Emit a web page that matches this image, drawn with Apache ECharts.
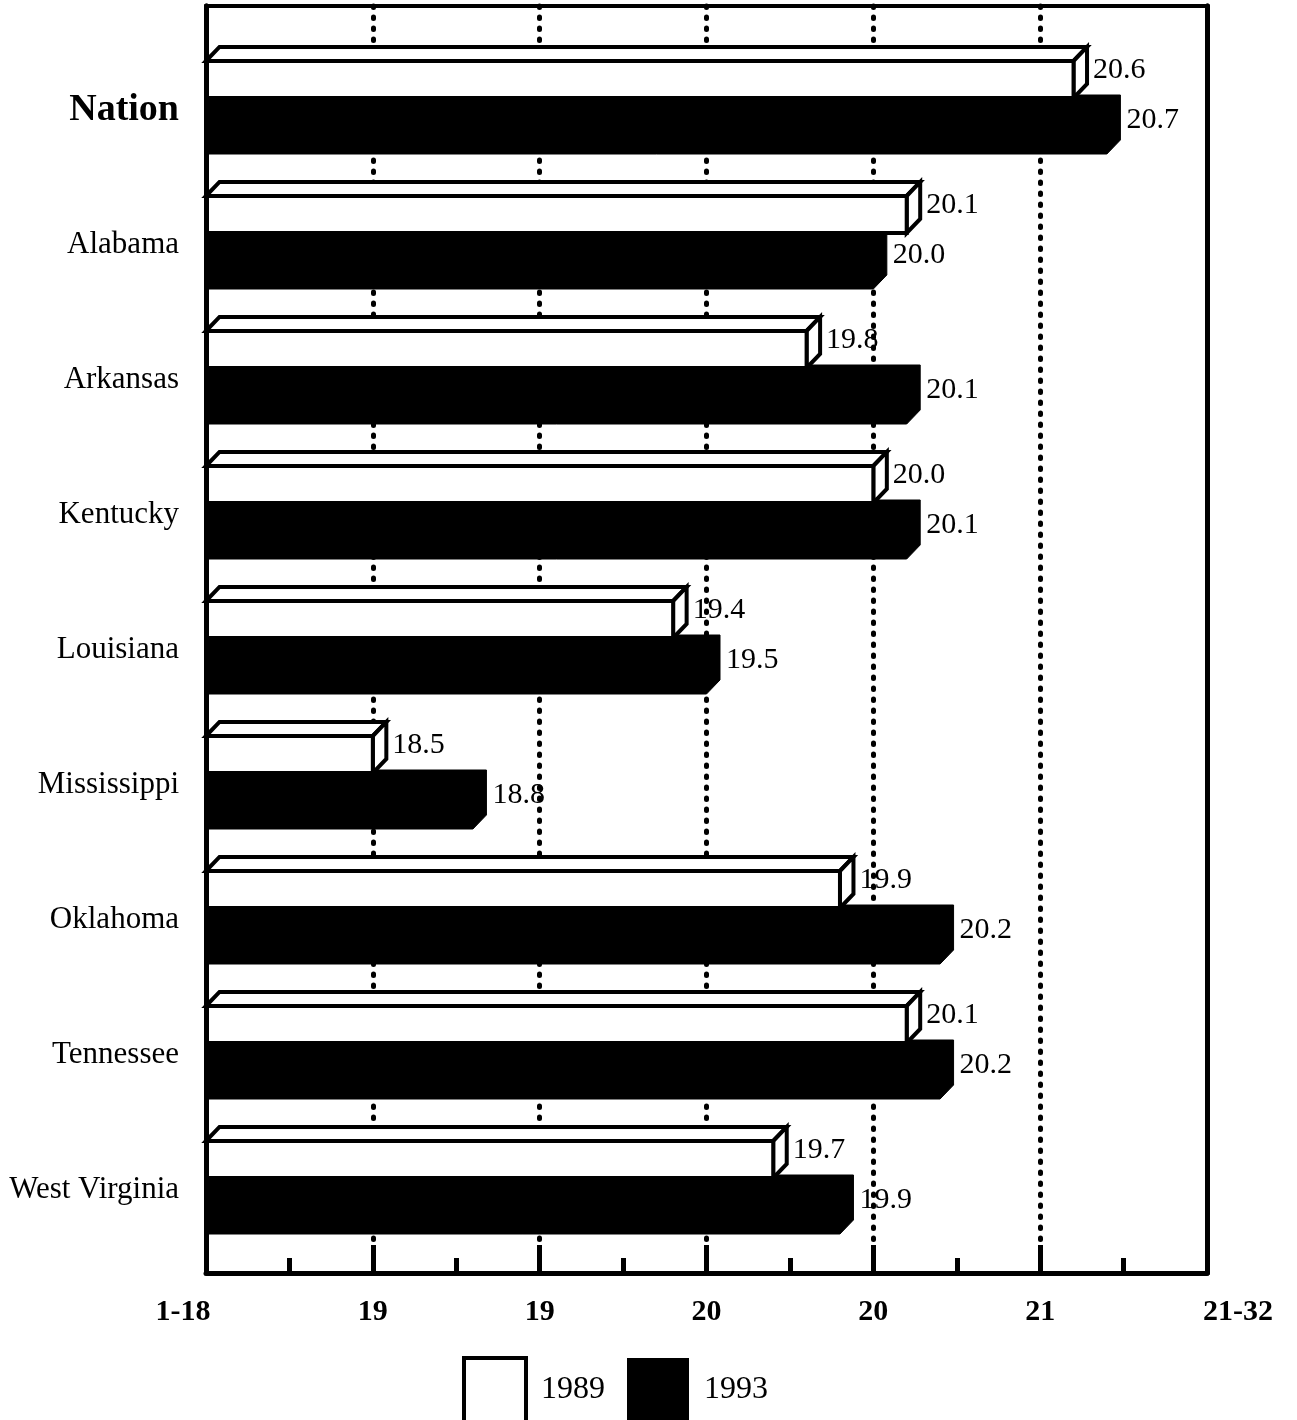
<!DOCTYPE html>
<html>
<head>
<meta charset="utf-8">
<script src="https://cdn.jsdelivr.net/npm/echarts@6/dist/echarts.min.js"></script>
<style>
  html, body { margin: 0; padding: 0; background: #fff; }
  #chart { width: 1297px; height: 1420px; }
</style>
</head>
<body>
<div id="chart"></div>
<script>
// ---- Data ----
const CATEGORIES = ['Nation', 'Alabama', 'Arkansas', 'Kentucky', 'Louisiana', 'Mississippi', 'Oklahoma', 'Tennessee', 'West Virginia'];
const VALUES_1989 = [20.6, 20.1, 19.8, 20.0, 19.4, 18.5, 19.9, 20.1, 19.7];
const VALUES_1993 = [20.7, 20.0, 20.1, 20.1, 19.5, 18.8, 20.2, 20.2, 19.9];
const SERIES_NAMES = ['1989', '1993'];
const X_TICK_LABELS = ['1-18', '19', '19', '20', '20', '21', '21-32'];
const X_MIN = 18;
const X_MAX = 21;
const X_STEP = 0.5;

// ---- Styling ----
const FONT = '"Liberation Serif", "Times New Roman", Times, serif';
const INK = '#000';
const LEFT = 206, RIGHT = 90;

function geom(api) {
  const v = api.value(0), idx = api.value(1);
  const p = api.coord([v, idx]);
  const p0 = api.coord([X_MIN, idx]);
  const band = api.size([0, 1])[1];
  return { v, xv: p[0], x0: p0[0], m: p[1], band, dx: band * 0.1, dy: band * 0.104 };
}

function renderWhite(params, api) {
  const g = geom(api);
  const ft = g.m - 0.363 * g.band, fb = g.m - 0.089 * g.band, bt = ft - g.dy;
  const st = { fill: '#fff', stroke: INK, lineWidth: 4, lineJoin: 'miter' };
  return {
    type: 'group',
    children: [
      { type: 'polygon', shape: { points: [[g.x0, ft], [g.x0 + g.dx, bt], [g.xv + g.dx, bt], [g.xv, ft]] }, style: st },
      { type: 'polygon', shape: { points: [[g.xv, ft], [g.xv + g.dx, bt], [g.xv + g.dx, fb - g.dy], [g.xv, fb]] }, style: st },
      { type: 'rect', shape: { x: g.x0, y: ft, width: g.xv - g.x0, height: fb - ft }, style: st },
      { type: 'text', x: g.xv + g.dx + 6, y: g.m - 0.296 * g.band,
        style: { text: g.v.toFixed(1), fill: INK, fontSize: 30, fontFamily: FONT, align: 'left', verticalAlign: 'middle' } }
    ]
  };
}

function renderBlack(params, api) {
  const g = geom(api);
  const ft = g.m - 0.007 * g.band, fb = g.m + 0.326 * g.band, bt = ft - g.dy;
  return {
    type: 'group',
    children: [
      { type: 'polygon', shape: { points: [[g.x0, fb], [g.x0, bt], [g.xv + g.dx, bt], [g.xv + g.dx, fb - g.dy], [g.xv, fb]] },
        style: { fill: INK, stroke: INK, lineWidth: 1 } },
      { type: 'text', x: g.xv + g.dx + 6, y: g.m + 0.074 * g.band,
        style: { text: g.v.toFixed(1), fill: INK, fontSize: 30, fontFamily: FONT, align: 'left', verticalAlign: 'middle' } }
    ]
  };
}

function xLabel(v) {
  const i = Math.round((v - X_MIN) / X_STEP);
  const t = X_TICK_LABELS[i];
  if (i === 0) return '{l|' + t + '}';
  if (i === X_TICK_LABELS.length - 1) return '{r|' + t + '}';
  return t;
}

const chart = echarts.init(document.getElementById('chart'));
chart.setOption({
  backgroundColor: '#fff',
  animation: false,
  grid: [
    { left: LEFT, right: RIGHT, top: 42.5, bottom: 162.5 },   // bars
    { left: LEFT, right: RIGHT, top: 6, bottom: 147 },         // dotted grid lines
    { left: LEFT, right: RIGHT, top: 6, bottom: 147 }          // frame, ticks, labels
  ],
  xAxis: [
    { gridIndex: 0, type: 'value', min: X_MIN, max: X_MAX, interval: X_STEP, show: false },
    { gridIndex: 1, type: 'value', min: X_MIN, max: X_MAX, interval: X_STEP, z: 0,
      axisLine: { show: false }, axisTick: { show: false }, axisLabel: { show: false },
      splitLine: { show: true, lineStyle: { color: INK, width: 5, type: [1.5, 9.5], cap: 'round' } } },
    { gridIndex: 2, type: 'value', position: 'bottom', min: X_MIN, max: X_MAX, interval: X_STEP, z: 10,
      axisLine: { show: true, onZero: false, lineStyle: { color: INK, width: 5 } },
      axisTick: { show: true, inside: true, length: 28, lineStyle: { color: INK, width: 5 } },
      minorTick: { show: true, splitNumber: 2, length: 15, lineStyle: { color: INK, width: 5 } },
      splitLine: { show: false },
      axisLabel: { show: true, showMinLabel: true, showMaxLabel: true, margin: 24, color: INK,
        fontSize: 30, fontWeight: 'bold', fontFamily: FONT, formatter: xLabel,
        rich: {
          l: { fontSize: 30, fontWeight: 'bold', fontFamily: FONT, color: INK, padding: [0, 46, 0, 0] },
          r: { fontSize: 30, fontWeight: 'bold', fontFamily: FONT, color: INK, padding: [0, 0, 0, 62] }
        } } },
    { gridIndex: 2, type: 'value', position: 'top', min: X_MIN, max: X_MAX, interval: X_STEP, z: 10,
      axisLine: { show: true, onZero: false, lineStyle: { color: INK, width: 4 } },
      axisTick: { show: false }, axisLabel: { show: false }, splitLine: { show: false } }
  ],
  yAxis: [
    { gridIndex: 0, type: 'category', data: CATEGORIES, inverse: true,
      axisLine: { show: false }, axisTick: { show: false }, splitLine: { show: false },
      axisLabel: { margin: 27, color: INK, fontSize: 31, fontFamily: FONT,
        formatter: function (v) { return v === 'Nation' ? '{n|' + v + '}' : v; },
        rich: { n: { fontSize: 38, fontWeight: 'bold', fontFamily: FONT, color: INK } } } },
    { gridIndex: 1, type: 'value', show: false },
    { gridIndex: 2, type: 'value', position: 'left', z: 10,
      axisLine: { show: true, onZero: false, lineStyle: { color: INK, width: 5 } },
      axisTick: { show: false }, axisLabel: { show: false }, splitLine: { show: false } },
    { gridIndex: 2, type: 'value', position: 'right', z: 10,
      axisLine: { show: true, onZero: false, lineStyle: { color: INK, width: 5 } },
      axisTick: { show: false }, axisLabel: { show: false }, splitLine: { show: false } }
  ],
  legend: {
    left: 462, top: 1356, padding: 0, itemWidth: 62, itemHeight: 64, itemGap: 22,
    textStyle: { fontSize: 32, fontFamily: FONT, color: INK, padding: [0, 0, 0, 10] },
    data: [
      { name: SERIES_NAMES[0], icon: 'rect', itemStyle: { color: '#fff', borderColor: INK, borderWidth: 4 } },
      { name: SERIES_NAMES[1], icon: 'rect', itemStyle: { color: INK, borderColor: INK, borderWidth: 0 } }
    ]
  },
  series: [
    { type: 'custom', name: SERIES_NAMES[1], xAxisIndex: 0, yAxisIndex: 0, z: 2, clip: false,
      itemStyle: { color: INK },
      data: VALUES_1993.map((v, i) => [v, i]), encode: { x: 0, y: 1 }, renderItem: renderBlack },
    { type: 'custom', name: SERIES_NAMES[0], xAxisIndex: 0, yAxisIndex: 0, z: 3, clip: false,
      itemStyle: { color: '#fff', borderColor: INK, borderWidth: 4 },
      data: VALUES_1989.map((v, i) => [v, i]), encode: { x: 0, y: 1 }, renderItem: renderWhite }
  ]
});
</script>
</body>
</html>
